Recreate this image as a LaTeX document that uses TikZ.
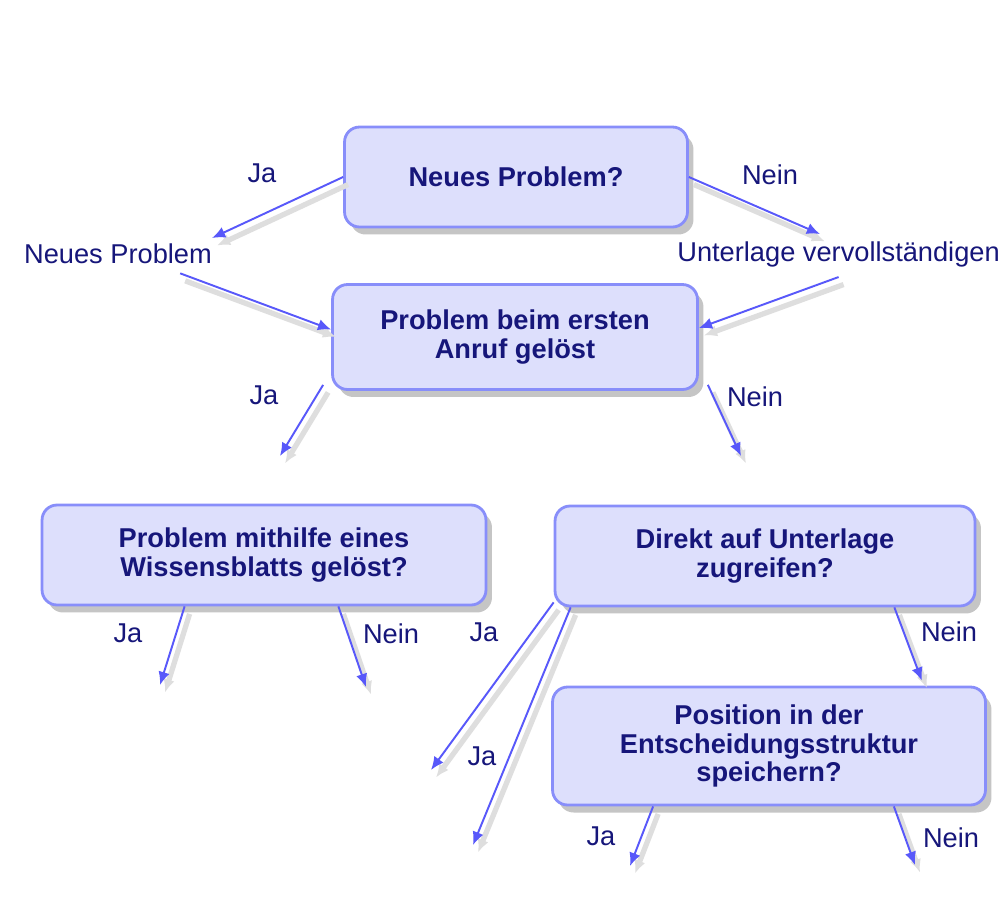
\documentclass[tikz,border=0pt]{standalone}
\usepackage{fontspec}
\setmainfont{Liberation Sans}
\usetikzlibrary{arrows.meta,calc,positioning,shadows}
\definecolor{chartnavy}{RGB}{22,22,122}
\definecolor{chartblue}{RGB}{88,88,250}
\definecolor{chartfill}{RGB}{221,223,252}
\definecolor{chartedge}{RGB}{136,142,250}
\tikzset{
  question/.style={draw=chartedge,line width=1.6pt,fill=chartfill,
    rounded corners=0.3cm,align=center,text=chartnavy,
    font=\fontsize{15.5}{16.4}\selectfont\bfseries,
    drop shadow={shadow xshift=0.12cm,shadow yshift=-0.15cm,
      fill=black!45,opacity=.5}},
  answer/.style={font=\fontsize{15.5}{16.4}\selectfont,text=chartnavy,
    inner sep=0pt},
  flow/.style={chartblue,line width=1.1pt,-{Latex[length=7.5pt,width=6.5pt]},
    preaction={draw=black!13,line width=3pt,
      transform canvas={shift={(0.1cm,-0.15cm)}}}}
}

\begin{document}
\begin{tikzpicture}[x=0.02cm,y=-0.02cm]
  \useasboundingbox (0,0) rectangle (1000,923);
  \fill[white] (0,0) rectangle (1000,923);
  \node[question,minimum width=6.86cm,minimum height=2cm] (neu)
    at (516,177) {Neues Problem?};
  \node[question,minimum width=7.3cm,minimum height=2.1cm] (ersten)
    at (515,337) {Problem beim ersten\\Anruf gelöst};
  \node[question,minimum width=8.88cm,minimum height=2cm] (wissen)
    at (264,555) {Problem mithilfe eines\\Wissensblatts gelöst?};
  \node[question,minimum width=8.4cm,minimum height=2cm] (direkt)
    at (765,556) {Direkt auf Unterlage\\zugreifen?};
  \node[question,minimum width=8.66cm,minimum height=2.36cm] (pos)
    at (769,746) {Position in der\\Entscheidungsstruktur\\speichern?};

  \node[answer] (neuja) at (262,173) {Ja};
  \node[answer] (neunein) at (770,175) {Nein};
  \node[answer] (neuprob) at (118,254) {Neues Problem};
  \node[answer,anchor=west] (vervoll) at (677,254)
    {Unterlage vervollständigen};
  \node[answer] (erstenja) at (264,395) {Ja};
  \node[answer] (erstennein) at (755,397) {Nein};
  \node[answer] (wissenja) at (128,633) {Ja};
  \node[answer] (wissennein) at (391,634) {Nein};
  \node[answer] (direktja) at (484,632) {Ja};
  \node[answer] (direktjb) at (482,756) {Ja};
  \node[answer] (direktnein) at (949,632) {Nein};
  \node[answer] (posja) at (601,836) {Ja};
  \node[answer] (posnein) at (951,838) {Nein};

  \coordinate (endneuja) at (212,238);
  \coordinate (endneunein) at (820,234);
  \coordinate (enderstenja) at (280,456);
  \coordinate (enderstennein) at (741,456);
  \coordinate (endwissenja) at (160,685);
  \coordinate (endwissennein) at (366,687);
  \coordinate (enddirektja) at (431,770);
  \coordinate (enddirektjb) at (473,845);
  \coordinate (endposja) at (630,866);
  \coordinate (endposnein) at (915,865);

  \draw[flow] (neu.west) -- (endneuja);
  \draw[flow] (neu.east) -- (endneunein);
  \draw[flow] ([shift={(-0.64cm,-0.18cm)}]neuprob.south east)
    -- ([yshift=0.15cm]ersten.west);
  \draw[flow] ([yshift=-0.2cm]vervoll.south)
    -- ([yshift=0.18cm]ersten.east);
  \draw[flow] ([shift={(-0.16cm,0.12cm)}]ersten.south west) -- (enderstenja);
  \draw[flow] ([shift={(0.18cm,0.12cm)}]ersten.south east) -- (enderstennein);
  \draw[flow] ([xshift=2.88cm]wissen.south west) -- (endwissenja);
  \draw[flow] ([xshift=-2.98cm]wissen.south east) -- (endwissennein);
  \draw[flow] ([yshift=0.1cm]direkt.south west) -- (enddirektja);
  \draw[flow] ([xshift=0.34cm]direkt.south west) -- (enddirektjb);
  \draw[flow] ([xshift=-1.64cm]direkt.south east)
    -- ([shift={(-1.3cm,0.1cm)}]pos.north east);
  \draw[flow] ([xshift=2.04cm]pos.south west) -- (endposja);
  \draw[flow] ([xshift=-1.86cm]pos.south east) -- (endposnein);
\end{tikzpicture}
\end{document}
